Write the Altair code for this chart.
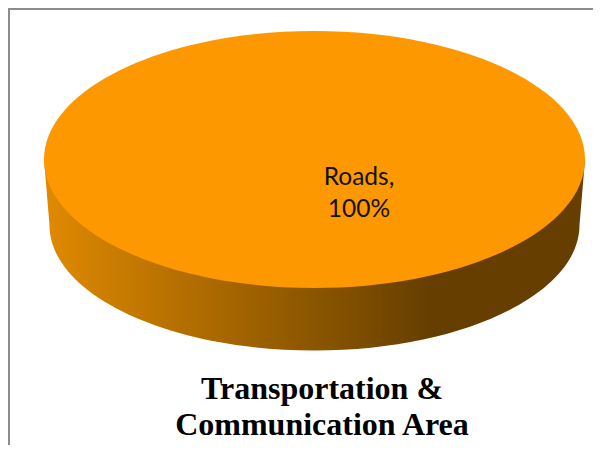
import altair as alt
import pandas as pd

categories = ["Roads"]
values = [100]
title_lines = ["Transportation &", "Communication Area"]

W, H = 585, 437
df = pd.DataFrame({"category": categories, "value": values,
                   "label": [[f"{categories[0]},", f"{values[0]}%"]]})

top_ellipse = "M-1,0 A1,0.475 0 1,1 1,0 A1,0.475 0 1,1 -1,0 Z"
side_shape = "M-1,0 L-0.9797,0.2425 A0.9797,0.4636 0 0,0 0.9797,0.2425 L1,0 Z"

x = alt.X("cx:Q", scale=alt.Scale(domain=[0, W], range=[0, W]), axis=None)
y = alt.Y("cy:Q", scale=alt.Scale(domain=[0, H], range=[0, H]), axis=None)
SIZE = (2 * 270.5) ** 2

base = alt.Chart(df)
side = base.transform_calculate(cx="314.5-8", cy="159.5-8").mark_point(
    shape=side_shape, size=SIZE, filled=True, opacity=1, strokeWidth=0,
    fill=alt.LinearGradient(
        gradient="linear", x1=0, x2=1, y1=0, y2=0,
        stops=[alt.GradientStop(color="#e08a00", offset=0),
               alt.GradientStop(color="#653e00", offset=0.72),
               alt.GradientStop(color="#653e00", offset=1)]),
).encode(x=x, y=y)
top = base.transform_calculate(cx="314.5-8", cy="159.5-8").mark_point(
    shape=top_ellipse, size=SIZE, filled=True, opacity=1, strokeWidth=0,
    fill="#fd9800",
).encode(x=x, y=y)
label = base.transform_calculate(cx="359-8", cy="178-8").mark_text(
    font="Lato", fontSize=24.5, lineHeight=32, color="#111111",
).encode(x=x, y=y, text="label:N")
title = alt.Chart(pd.DataFrame({"t": [title_lines]})).transform_calculate(
    cx="322-8", cy="389-8").mark_text(
    font="Liberation Serif", fontWeight="bold", fontSize=32, lineHeight=36, color="#000000",
).encode(x=x, y=y, text="t:N")

frame_top = alt.Chart(df).mark_rule(color="#8c8c8c", strokeWidth=2).encode(
    x=alt.value(0), x2=alt.value(W), y=alt.value(1))
frame_left = alt.Chart(df).mark_rule(color="#8c8c8c", strokeWidth=2).encode(
    x=alt.value(1), y=alt.value(0), y2=alt.value(H))

chart = (frame_top + frame_left + side + top + label + title).properties(
    width=W, height=H, padding=0, autosize=alt.AutoSizeParams(type="none"),
).configure_view(strokeWidth=0)
chart.save("out.html", embed_options={"renderer": "svg", "actions": False})
